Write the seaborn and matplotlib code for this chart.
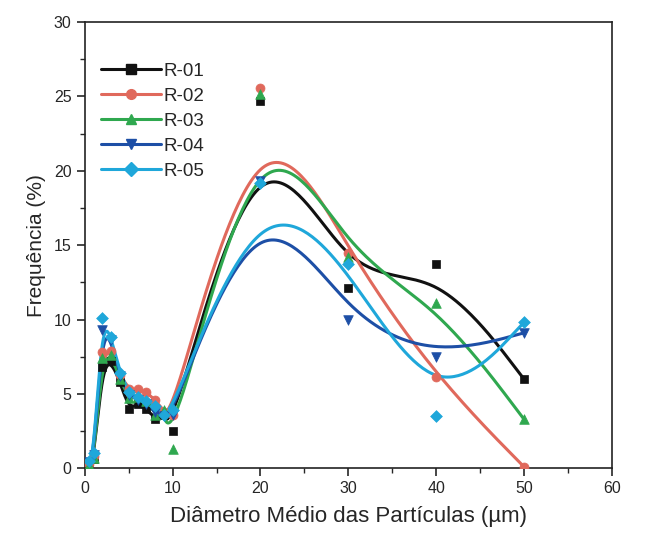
import numpy as np
import pandas as pd
import seaborn as sns
import matplotlib.pyplot as plt
from matplotlib.lines import Line2D
from matplotlib.ticker import MultipleLocator

# diametro medio (um) e frequencia (%) de cada amostra
diametro = [0.5, 1, 2, 3, 4, 5, 6, 7, 8, 9, 10, 20, 30, 40, 50]
r01 = [0.2, 0.6, 6.8, 7.2, 5.8, 4.0, 4.3, 4.0, 3.3, 3.6, 2.5, 24.7, 12.1, 13.7, 6.0]
r02 = [0.3, 0.8, 7.8, 7.9, 6.3, 5.3, 5.3, 5.1, 4.6, 3.8, 3.6, 25.6, 14.5, 6.1, 0.1]
r03 = [0.2, 0.7, 7.4, 7.6, 6.0, 4.7, 4.8, 4.5, 3.6, 3.9, 1.3, 25.2, 14.2, 11.1, 3.3]
r04 = [0.4, 0.9, 9.3, 8.6, 6.2, 4.9, 4.6, 4.3, 3.8, 3.5, 3.6, 19.3, 10.0, 7.5, 9.1]
r05 = [0.5, 1.0, 10.1, 8.8, 6.4, 5.1, 4.8, 4.5, 4.2, 3.6, 3.9, 19.2, 13.7, 3.5, 9.8]

amostras = ["R-01", "R-02", "R-03", "R-04", "R-05"]
series = [r01, r02, r03, r04, r05]
cores = ["#111111", "#e0695c", "#2fa84f", "#1d4fa6", "#1fa7da"]
marcadores = ["s", "o", "^", "v", "D"]
tamanhos = [36, 42, 48, 48, 36]


def bspline(x, y, n=40):
    """cubic B-spline using the points as control points (ends clamped)"""
    p = np.column_stack([x, y]).astype(float)
    p = np.vstack([p[:1], p[:1], p, p[-1:], p[-1:]])
    M = np.array([[-1, 3, -3, 1], [3, -6, 3, 0], [-3, 0, 3, 0], [1, 4, 1, 0]]) / 6.0
    t = np.linspace(0, 1, n)
    T = np.column_stack([t**3, t**2, t, np.ones_like(t)])
    pts = [T @ M @ p[i:i + 4] for i in range(len(p) - 3)]
    pts = np.vstack(pts)
    return pts[:, 0], pts[:, 1]


sns.set_style("ticks")
plt.rcParams['font.family'] = ['Liberation Sans', 'DejaVu Sans']

fig = plt.figure(figsize=(6.48, 5.4), dpi=100)
ax = fig.add_axes([0.131, 0.133, 0.813, 0.826])

handles = []
for nome, vals, cor, mk, sz in zip(amostras, series, cores, marcadores, tamanhos):
    xs, ys = bspline(diametro, vals)
    curva = pd.DataFrame({"x": xs, "y": ys})
    sns.lineplot(data=curva, x="x", y="y", sort=False, color=cor, linewidth=2.2, ax=ax)
    pontos = pd.DataFrame({"x": diametro, "y": vals})
    sns.scatterplot(data=pontos, x="x", y="y", marker=mk, s=sz, color=cor,
                    edgecolor=cor, linewidth=0.5, ax=ax, zorder=3)
    handles.append(Line2D([], [], color=cor, linewidth=2.2, marker=mk,
                          markersize=7, label=nome))

ax.set_xlim(0, 60)
ax.set_ylim(0, 30)
ax.xaxis.set_major_locator(MultipleLocator(10))
ax.xaxis.set_minor_locator(MultipleLocator(5))
ax.yaxis.set_major_locator(MultipleLocator(5))
ax.yaxis.set_minor_locator(MultipleLocator(2.5))
ax.tick_params(which="major", length=6, width=1.2, labelsize=11.5, direction="out")
ax.tick_params(which="minor", length=3.5, width=1.0, direction="out")
for s in ax.spines.values():
    s.set_linewidth(1.2)
    s.set_color("#222222")

ax.set_xlabel("Diâmetro Médio das Partículas (µm)", fontsize=16, labelpad=7)
ax.set_ylabel("Frequência (%)", fontsize=15, labelpad=6)

ax.legend(handles=handles, loc="upper left", bbox_to_anchor=(0.01, 0.935),
          frameon=False, fontsize=13.5, handlelength=3.2, handletextpad=0.1,
          labelspacing=0.42, borderaxespad=0.2)

fig.savefig("out.png", dpi=100)
